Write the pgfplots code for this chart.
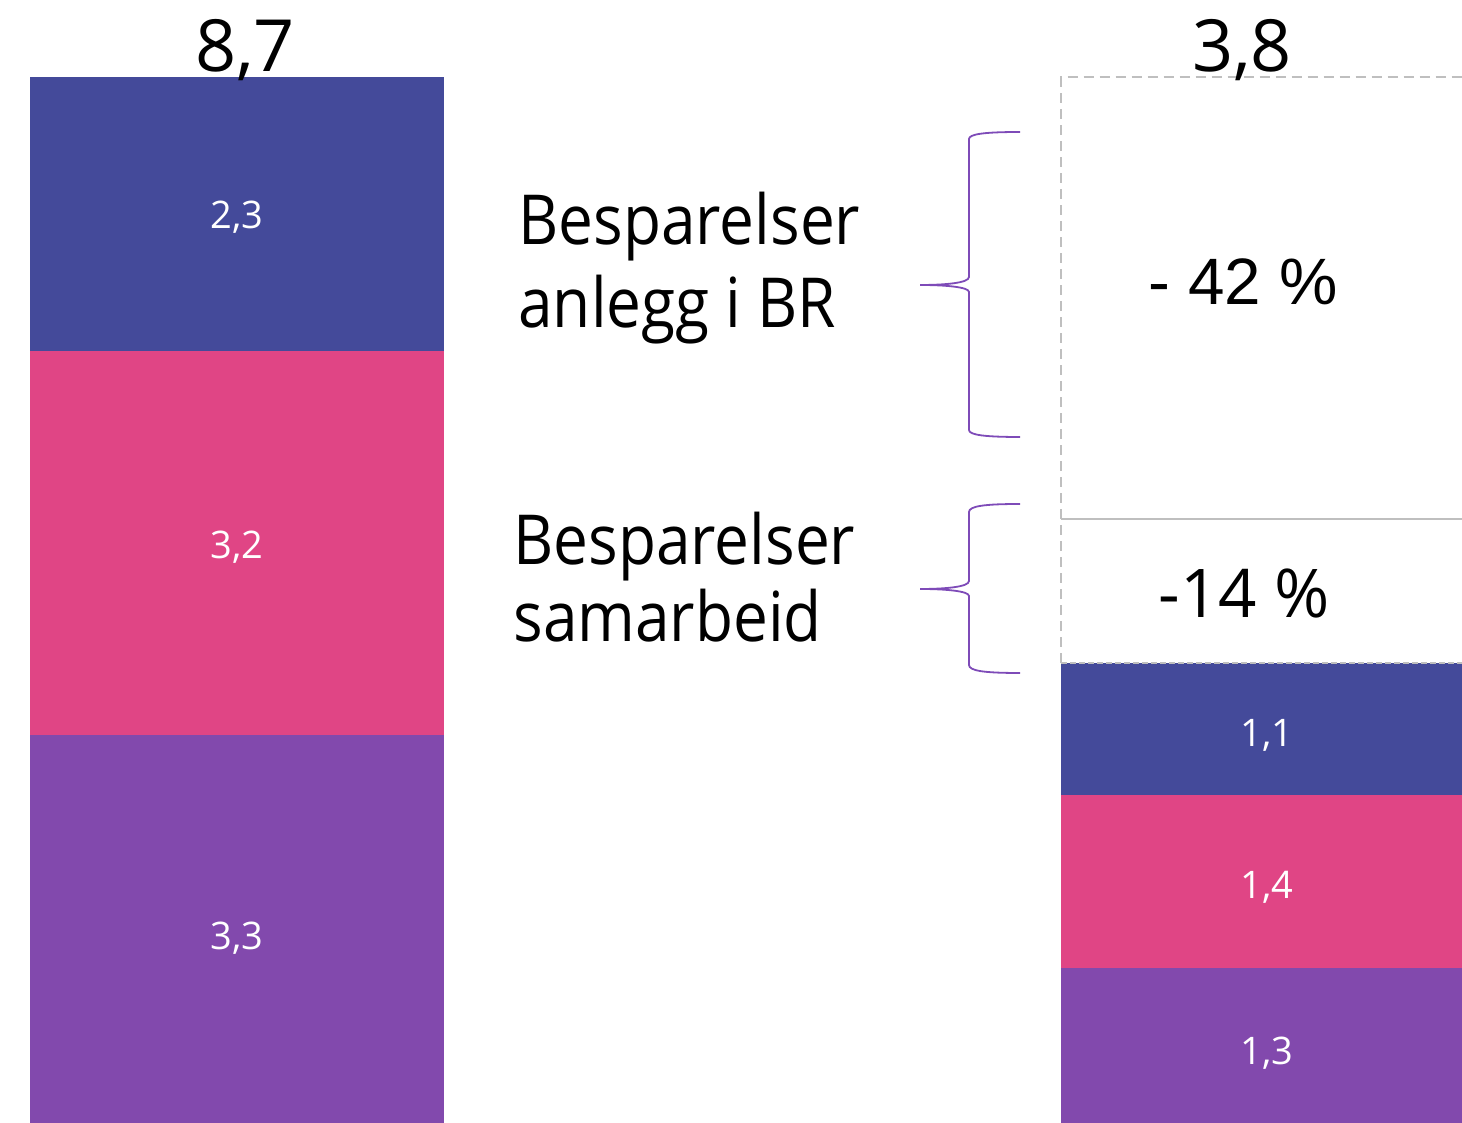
\documentclass[border=0pt]{standalone}
\usepackage{pgfplots}
\pgfplotsset{compat=1.18}
\usepackage{fontspec}
\setmainfont{Open Sans}
\newfontfamily\descfont[FakeStretch=0.9]{Open Sans}
\newfontfamily\arialfont{Liberation Sans}
\definecolor{cblue}{HTML}{444A9A}
\definecolor{cpink}{HTML}{E04585}
\definecolor{cpurple}{HTML}{8249AD}
\definecolor{cbrace}{HTML}{7E4BB8}
\definecolor{cgray}{HTML}{BFBFBF}
\begin{document}
\begin{tikzpicture}
\useasboundingbox (0,0) rectangle (731pt,561.5pt);
\begin{axis}[
  at={(0,0)}, anchor=south west,
  scale only axis, width=731pt, height=561.5pt,
  xmin=0, xmax=1462, ymin=0, ymax=9.3428,
  hide axis, clip=false,
]
% cumulative bar tops (blue = total, pink = purple+pink, purple)
\addplot[ybar interval, fill=cblue, draw=none] coordinates {(30,8.70) (444,8.70)};
\addplot[ybar interval, fill=cpink, draw=none] coordinates {(30,6.42) (444,6.42)};
\addplot[ybar interval, fill=cpurple, draw=none] coordinates {(30,3.23) (444,3.23)};
\addplot[ybar interval, fill=cblue, draw=none] coordinates {(1061,3.83) (1462,3.83)};
\addplot[ybar interval, fill=cpink, draw=none] coordinates {(1061,2.73) (1462,2.73)};
\addplot[ybar interval, fill=cpurple, draw=none] coordinates {(1061,1.29) (1462,1.29)};

% reduction box
\draw[cgray, line width=1pt, dash pattern=on 5pt off 3pt]
  (axis cs:1061,3.83) -- (axis cs:1061,8.70) -- (axis cs:1462,8.70);
\draw[cgray, line width=1pt, dash pattern=on 3pt off 1.5pt]
  (axis cs:1061,3.83) -- (axis cs:1462,3.83);
\draw[cgray, line width=1pt] (axis cs:1061,5.025) -- (axis cs:1462,5.025);

% braces
\draw[cbrace, line width=0.9pt]
  (axis cs:1020,{(1123-132)/120.2}) .. controls (axis cs:985,{(1123-132)/120.2}) and (axis cs:969,{(1123-134)/120.2}) .. (axis cs:969,{(1123-139)/120.2})
  -- (axis cs:969,{(1123-277)/120.2}) .. controls (axis cs:969,{(1123-283)/120.2}) and (axis cs:945,{(1123-285)/120.2}) .. (axis cs:920,{(1123-285)/120.2})
  .. controls (axis cs:945,{(1123-285)/120.2}) and (axis cs:969,{(1123-287)/120.2}) .. (axis cs:969,{(1123-292)/120.2})
  -- (axis cs:969,{(1123-430)/120.2}) .. controls (axis cs:969,{(1123-435)/120.2}) and (axis cs:985,{(1123-437)/120.2}) .. (axis cs:1020,{(1123-437)/120.2});
\draw[cbrace, line width=0.9pt]
  (axis cs:1020,{(1123-504)/120.2}) .. controls (axis cs:985,{(1123-504)/120.2}) and (axis cs:969,{(1123-506)/120.2}) .. (axis cs:969,{(1123-512)/120.2})
  -- (axis cs:969,{(1123-581)/120.2}) .. controls (axis cs:969,{(1123-587)/120.2}) and (axis cs:945,{(1123-589)/120.2}) .. (axis cs:920,{(1123-589)/120.2})
  .. controls (axis cs:945,{(1123-589)/120.2}) and (axis cs:969,{(1123-591)/120.2}) .. (axis cs:969,{(1123-596)/120.2})
  -- (axis cs:969,{(1123-665)/120.2}) .. controls (axis cs:969,{(1123-671)/120.2}) and (axis cs:985,{(1123-673)/120.2}) .. (axis cs:1020,{(1123-673)/120.2});

% totals
\node[anchor=base, inner sep=0, font=\fontsize{36}{44}\selectfont] at (axis cs:245,{(1123-72)/120.2}) {8,7};
\node[anchor=base, inner sep=0, font=\fontsize{36}{44}\selectfont] at (axis cs:1242,{(1123-72)/120.2}) {3,8};

% segment labels
\node[anchor=base, inner sep=0, text=white, font=\fontsize{19}{23}\selectfont] at (axis cs:237,{(1123-229)/120.2}) {2,3};
\node[anchor=base, inner sep=0, text=white, font=\fontsize{19}{23}\selectfont] at (axis cs:237,{(1123-559)/120.2}) {3,2};
\node[anchor=base, inner sep=0, text=white, font=\fontsize{19}{23}\selectfont] at (axis cs:237,{(1123-950)/120.2}) {3,3};
\node[anchor=base, inner sep=0, text=white, font=\fontsize{19}{23}\selectfont] at (axis cs:1267,{(1123-747)/120.2}) {1,1};
\node[anchor=base, inner sep=0, text=white, font=\fontsize{19}{23}\selectfont] at (axis cs:1267,{(1123-899)/120.2}) {1,4};
\node[anchor=base, inner sep=0, text=white, font=\fontsize{19}{23}\selectfont] at (axis cs:1267,{(1123-1065)/120.2}) {1,3};

% percentages
\node[anchor=base, inner sep=0, font=\arialfont\fontsize{32.8}{40}\selectfont] at (axis cs:1243,{(1123-305)/120.2}) {- 42 \%};
\node[anchor=base, inner sep=0, font=\fontsize{33.6}{40}\selectfont] at (axis cs:1244,{(1123-618)/120.2}) {-14 \%};

% descriptions
\node[anchor=base west, inner sep=0, font=\descfont\fontsize{34.5}{42}\selectfont] at (axis cs:518,{(1123-245)/120.2}) {Besparelser};
\node[anchor=base west, inner sep=0, font=\descfont\fontsize{34.5}{42}\selectfont] at (axis cs:518,{(1123-328)/120.2}) {anlegg i BR};
\node[anchor=base west, inner sep=0, font=\descfont\fontsize{34.5}{42}\selectfont] at (axis cs:513,{(1123-565)/120.2}) {Besparelser};
\node[anchor=base west, inner sep=0, font=\descfont\fontsize{34.5}{42}\selectfont] at (axis cs:513,{(1123-642)/120.2}) {samarbeid};
\end{axis}
\end{tikzpicture}
\end{document}
